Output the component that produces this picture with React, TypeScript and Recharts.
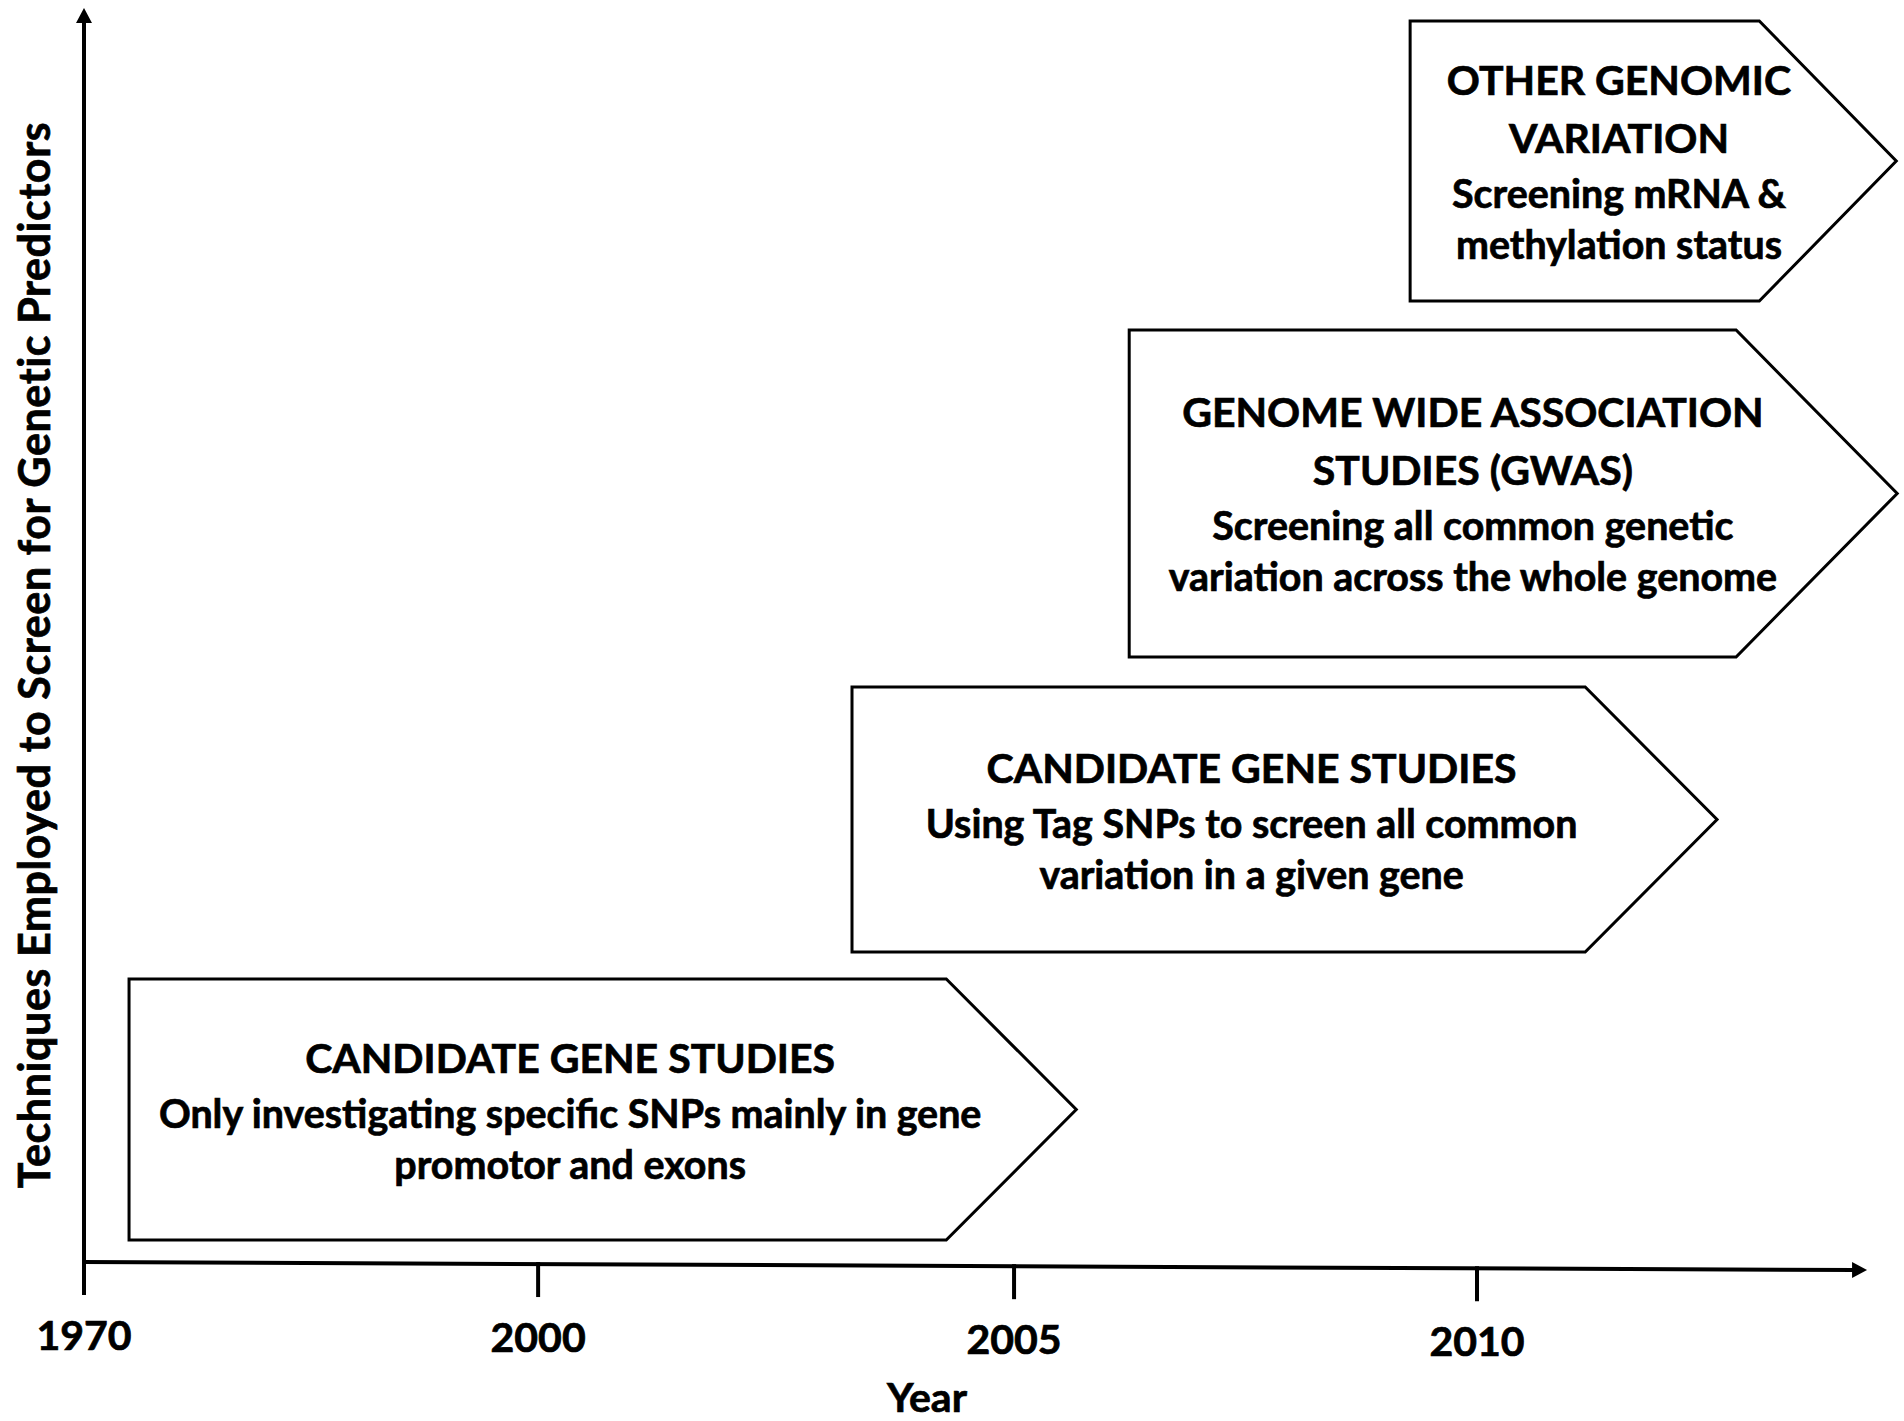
import React from 'react';
import { ComposedChart, XAxis, YAxis, ReferenceArea, ReferenceLine } from 'recharts';

// Timeline (schematic) x positions: one unit ≈ spacing between year ticks
const tickValues = [0, 0.978, 2.003, 3.0];
const tickLabels = ['1970', '2000', '2005', '2010'];

// Stages (boxes)
const stageStart = [0.097, 1.654, 2.251, 2.856];
const stageBodyEnd = [1.857, 3.233, 3.558, 3.608];
const stageTip = [2.137, 3.517, 3.905, 3.903];
const stageBottom = [1.75, 24.72, 48.25, 76.63];
const stageTop = [22.57, 45.85, 74.32, 98.96];
const stageHeadings = [
  ['CANDIDATE GENE STUDIES'],
  ['CANDIDATE GENE STUDIES'],
  ['GENOME WIDE ASSOCIATION', 'STUDIES (GWAS)'],
  ['OTHER GENOMIC', 'VARIATION'],
];
const stageDescriptions = [
  ['Only investigating specific SNPs mainly in gene', 'promotor and exons'],
  ['Using Tag SNPs to screen all common', 'variation in a given gene'],
  ['Screening all common genetic', 'variation across the whole genome'],
  ['Screening mRNA &', 'methylation status'],
];

const xDomainMax = 3.911;
const xAxisEnd = 3.84;
const xAxisDrop = 0.64; // the drawn axis slopes slightly downward to the right
const yDomainMax = 100;

const FONT = 'Lato, "Open Sans", sans-serif';
const TEXT_STROKE = 0.7;

const makeStageShape = (i: number) => (props: any) => {
  const { x, y, width, height } = props;
  const span = stageTip[i] - stageStart[i];
  const bodyX = x + (width * (stageBodyEnd[i] - stageStart[i])) / span;
  const tipX = x + width;
  const midY = y + height / 2;
  const pts = `${x},${y} ${bodyX},${y} ${tipX},${midY} ${bodyX},${y + height} ${x},${y + height}`;
  const lines = [
    ...stageHeadings[i].map((t) => ({ t, h: true })),
    ...stageDescriptions[i].map((t) => ({ t, h: false })),
  ];
  const offs: number[] = [0];
  for (let k = 1; k < lines.length; k++) {
    const prev = lines[k - 1];
    const cur = lines[k];
    const pitch = prev.h && cur.h ? 58 : prev.h ? 55 : 51;
    offs.push(offs[k - 1] + pitch);
  }
  const blockMid = (offs[0] + offs[offs.length - 1]) / 2;
  const cx = (2 * x + bodyX + tipX) / 4;
  const cy = midY + 2;
  return (
    <g>
      <polygon points={pts} fill="#ffffff" stroke="#000000" strokeWidth={3} strokeLinejoin="miter" />
      {lines.map((l, k) => (
        <text
          key={k}
          x={cx}
          y={cy + offs[k] - blockMid + 14}
          textAnchor="middle"
          fontFamily={FONT}
          fontWeight={700}
          fontSize={l.h ? 41 : 39.4}
          fill="#000"
          stroke="#000"
          strokeWidth={TEXT_STROKE}
        >
          {l.t}
        </text>
      ))}
    </g>
  );
};

const YAxisLineShape = (props: any) => {
  const { x1, y1, x2, y2 } = props;
  const top = Math.min(y1, y2);
  const bottom = Math.max(y1, y2);
  return (
    <g>
      <line x1={x1} y1={bottom} x2={x2} y2={top + 12} stroke="#000" strokeWidth={4} />
      <polygon points={`${x1},${top} ${x1 - 8},${top + 15} ${x1 + 8},${top + 15}`} fill="#000" />
    </g>
  );
};

const XAxisLineShape = (props: any) => {
  const { x1, y1, x2, y2 } = props;
  return (
    <g>
      <line x1={x1 - 2} y1={y1} x2={x2 - 12} y2={y2} stroke="#000" strokeWidth={4} />
      <polygon points={`${x2},${y2} ${x2 - 15},${y2 - 8} ${x2 - 15},${y2 + 8}`} fill="#000" />
    </g>
  );
};

const AXIS_LEFT_PX = 84;
const SLOPE = 8 / 1783;

const YearTick = (props: any) => {
  const { x, y, payload } = props;
  const idx = tickValues.indexOf(payload.value);
  const drop = (x - AXIS_LEFT_PX) * SLOPE;
  return (
    <g>
      <line x1={x} y1={y + drop - 2} x2={x} y2={y + drop + 33} stroke="#000" strokeWidth={4} />
      <text
        x={x}
        y={y + drop + 88}
        textAnchor="middle"
        fontFamily={FONT}
        fontWeight={700}
        fontSize={41}
        fill="#000"
        stroke="#000"
        strokeWidth={TEXT_STROKE}
      >
        {idx >= 0 ? tickLabels[idx] : ''}
      </text>
    </g>
  );
};

const YearLabel = (props: any) => {
  const vb = props.viewBox || {};
  const cx = vb.x + vb.width * 0.4642;
  return (
    <text
      x={cx}
      y={vb.y + 150}
      textAnchor="middle"
      fontFamily={FONT}
      fontWeight={700}
      fontSize={41}
      fill="#000"
      stroke="#000"
      strokeWidth={TEXT_STROKE}
    >
      Year
    </text>
  );
};

const YTitle = (props: any) => {
  const vb = props.viewBox || {};
  const cx = vb.x + 33;
  const cy = vb.y + vb.height / 2 + 20;
  return (
    <text
      x={cx}
      y={cy}
      transform={`rotate(-90, ${cx}, ${cy})`}
      textAnchor="middle"
      dominantBaseline="central"
      fontFamily={FONT}
      fontWeight={700}
      fontSize={43}
      letterSpacing={0.6}
      fill="#000"
      stroke="#000"
      strokeWidth={TEXT_STROKE}
    >
      Techniques Employed to Screen for Genetic Predictors
    </text>
  );
};

export default function App() {
  return (
    <div style={{ position: 'absolute', left: 0, top: 0, width: 1904, height: 1421, background: '#fff' }}>
      <ComposedChart width={1904} height={1421} margin={{ top: 8, right: 4, bottom: 0, left: 0 }} data={[]}>
        <XAxis
          type="number"
          dataKey="x"
          domain={[0, xDomainMax]}
          ticks={tickValues}
          interval={0}
          height={159}
          axisLine={false}
          tickLine={false}
          tickSize={0}
          tickMargin={0}
          tick={<YearTick />}
          allowDataOverflow
          label={{ content: <YearLabel /> }}
        />
        <YAxis
          type="number"
          domain={[0, yDomainMax]}
          width={84}
          axisLine={false}
          tickLine={false}
          tick={false}
          allowDataOverflow
          label={{ content: <YTitle /> }}
        />
        {stageStart.map((s, i) => (
          <ReferenceArea
            key={i}
            x1={s}
            x2={stageTip[i]}
            y1={stageBottom[i]}
            y2={stageTop[i]}
            ifOverflow="visible"
            shape={makeStageShape(i)}
          />
        ))}
        <ReferenceLine
          segment={[{ x: 0, y: 0 }, { x: 0, y: yDomainMax }]}
          ifOverflow="visible"
          shape={<YAxisLineShape />}
        />
        <ReferenceLine
          segment={[{ x: 0, y: 0 }, { x: xAxisEnd, y: -xAxisDrop }]}
          ifOverflow="visible"
          shape={<XAxisLineShape />}
        />
      </ComposedChart>
    </div>
  );
}
